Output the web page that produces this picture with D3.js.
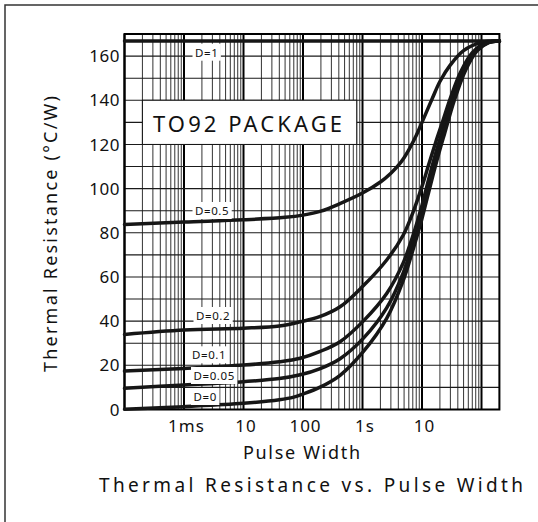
<!DOCTYPE html>
<html><head><meta charset="utf-8">
<script src="https://cdn.jsdelivr.net/npm/d3@7"></script>
<style>html,body{margin:0;padding:0;background:#fff;}svg{display:block;}</style>
</head><body>
<svg id="chart" width="538" height="522"></svg>
<script>
// ---------- data ----------
const seriesNames = ["D=1", "D=0.5", "D=0.2", "D=0.1", "D=0.05", "D=0"];
// [pulse width (s), thermal resistance (°C/W)]
const dOne   = [[1e-4,166.8],[200,166.8]];
const dHalf  = [[1e-4,83.8],[1e-3,84.9],[1e-2,85.9],[0.05,87],[0.1,88],[0.2,89.8],[0.4,93],[1,98],[2,103],[3,107],[4,110.5],[5,114],[6,117.5],[8,124],[10,130],[15,141],[20,148.5],[30,156],[50,162.5],[100,166.2],[200,166.8]];
const dFifth = [[1e-4,34],[1e-3,36],[1e-2,36.8],[0.04,37.8],[0.09,39.7],[0.19,42],[0.42,46.5],[1.03,56],[2.55,67.7],[4.85,79],[7,89],[10,101],[13,111],[17,121],[22,130],[30,141],[45,153],[70,161.5],[110,165.7],[200,166.8]];
const dTenth = [[1e-4,17.4],[1e-3,18.6],[1e-2,20.1],[0.04,21.6],[0.09,23.2],[0.19,26.2],[0.42,30.7],[1.03,40],[2.55,52.5],[4.85,66.5],[7,78.5],[10,92.5],[13,104.5],[17,116],[22,126],[32,141],[50,154.5],[80,162.5],[125,166],[200,166.8]];
const dTwentieth = [[1e-4,9.6],[1e-3,11.1],[1e-2,12.6],[0.04,14],[0.09,15.7],[0.19,18.4],[0.42,23],[1.03,32.2],[2.55,46],[4.85,62],[7,75],[10,89],[13.5,103],[18,115.5],[23,125.5],[33,140],[52,154],[82,162.5],[125,166],[200,166.8]];
const dZero  = [[1e-4,0.1],[1e-3,1.3],[1e-2,2.8],[0.04,4.4],[0.07,5.6],[0.1,7],[0.19,10],[0.42,15.5],[1.03,26.2],[2.55,41.3],[4.85,58.5],[7,72],[10,86.5],[14,102],[19,115.5],[24,125],[35,140],[55,154],[85,162.5],[130,166],[200,166.8]];
const seriesData = [dOne, dHalf, dFifth, dTenth, dTwentieth, dZero];

const yTickValues = [0,20,40,60,80,100,120,140,160];
const xTickValues = [1e-3, 1e-2, 1e-1, 1, 10];
const xTickLabels = ["1ms", "10", "100", "1s", "10"];
const xDomain = [1e-4, 200];
const yDomain = [0, 170];

// ---------- layout ----------
const FONT = "'Noto Sans', 'DejaVu Sans', sans-serif";
const svg = d3.select("#chart");
const x = d3.scaleLog().domain(xDomain).range([124.5, 124.5 + 59.5 * Math.log10(xDomain[1] / xDomain[0])]);
const y = d3.scaleLinear().domain(yDomain).range([409.5, 34]);
const [x0, x1] = x.range();
const [yb, yt] = y.range();

// outer frame
svg.append("rect").attr("x", 5).attr("y", 5).attr("width", 560).attr("height", 560)
  .attr("fill", "none").attr("stroke", "#333").attr("stroke-width", 1.5);

// grid
const g = svg.append("g");
const vLines = [];
for (let e = -4; e <= 2; e++) {
  for (let k = 1; k <= 9; k++) {
    const t = k * Math.pow(10, e);
    if (t > xDomain[1] * 1.0001) continue;
    vLines.push({t, major: k === 1});
  }
}
g.selectAll("line.vg").data(vLines).join("line")
  .attr("x1", d => x(d.t)).attr("x2", d => x(d.t))
  .attr("y1", yt).attr("y2", yb)
  .attr("stroke", d => d.major ? "#000" : "#333")
  .attr("stroke-width", d => d.major ? 2 : 1);
g.selectAll("line.hg").data(d3.range(10, 170, 10)).join("line")
  .attr("x1", x0).attr("x2", x1)
  .attr("y1", d => y(d)).attr("y2", d => y(d))
  .attr("stroke", "#1a1a1a").attr("stroke-width", 1.1);

// package box
svg.append("rect")
  .attr("x", x(2e-4)).attr("y", y(140))
  .attr("width", x(0.8) - x(2e-4)).attr("height", y(120) - y(140))
  .attr("fill", "#fff").attr("stroke", "#111").attr("stroke-width", 1);
svg.append("text").attr("x", 153).attr("y", 131.5)
  .attr("font-family", FONT).attr("font-size", 22)
  .attr("textLength", 189).attr("lengthAdjust", "spacing")
  .attr("fill", "#111").text("TO92 PACKAGE");

// plot border
svg.append("rect").attr("x", x0).attr("y", yt).attr("width", x1 - x0).attr("height", yb - yt)
  .attr("fill", "none").attr("stroke", "#000").attr("stroke-width", 2);

// curves
const line = d3.line().x(d => x(d[0])).y(d => y(d[1])).curve(d3.curveCatmullRom.alpha(0.5));
svg.selectAll("path.curve").data(seriesData).join("path")
  .attr("d", line).attr("fill", "none").attr("stroke", "#161616")
  .attr("stroke-width", 3.5).attr("stroke-linecap", "round").attr("stroke-linejoin", "round");

// series labels
const labelPos = [[195,56.7],[195,215],[196,320],[192,359.3],[193.5,380],[193.5,401]];
const lg = svg.append("g");
seriesNames.forEach((name, i) => {
  const t = lg.append("text").attr("x", labelPos[i][0]).attr("y", labelPos[i][1])
    .attr("font-family", FONT).attr("font-size", 11.5).attr("letter-spacing", 0.6)
    .attr("fill", "#111").text(name);
  const b = t.node().getBBox();
  lg.insert("rect", "text").attr("x", b.x - 2.5).attr("y", b.y - 1)
    .attr("width", b.width + 5).attr("height", b.height + 2).attr("fill", "#fff");
});

// y tick labels
svg.selectAll("text.yt").data(yTickValues).join("text")
  .attr("x", 120).attr("y", d => y(d)).attr("dy", "0.36em")
  .attr("text-anchor", "end").attr("font-family", FONT).attr("font-size", 17)
  .attr("letter-spacing", 0.5).attr("fill", "#111").text(d => d);

// x tick labels
svg.selectAll("text.xt").data(xTickValues).join("text")
  .attr("x", d => x(d) + 2.5).attr("y", 431.5)
  .attr("text-anchor", "middle").attr("font-family", FONT).attr("font-size", 17)
  .attr("letter-spacing", 1).attr("fill", "#111").text((d, i) => xTickLabels[i]);

// axis titles
svg.append("text").attr("x", 301.5).attr("y", 459)
  .attr("text-anchor", "middle").attr("font-family", FONT).attr("font-size", 18)
  .attr("textLength", 117).attr("lengthAdjust", "spacing")
  .attr("fill", "#111").text("Pulse Width");
svg.append("text").attr("transform", "translate(57,234) rotate(-90)")
  .attr("text-anchor", "middle").attr("font-family", FONT).attr("font-size", 18)
  .attr("textLength", 276).attr("lengthAdjust", "spacing")
  .attr("fill", "#111").text("Thermal Resistance (°C/W)");
svg.append("text").attr("x", 311).attr("y", 491.5)
  .attr("text-anchor", "middle").attr("font-family", FONT).attr("font-size", 19)
  .attr("textLength", 424).attr("lengthAdjust", "spacing")
  .attr("fill", "#111").text("Thermal Resistance vs. Pulse Width");
</script>
</body></html>
